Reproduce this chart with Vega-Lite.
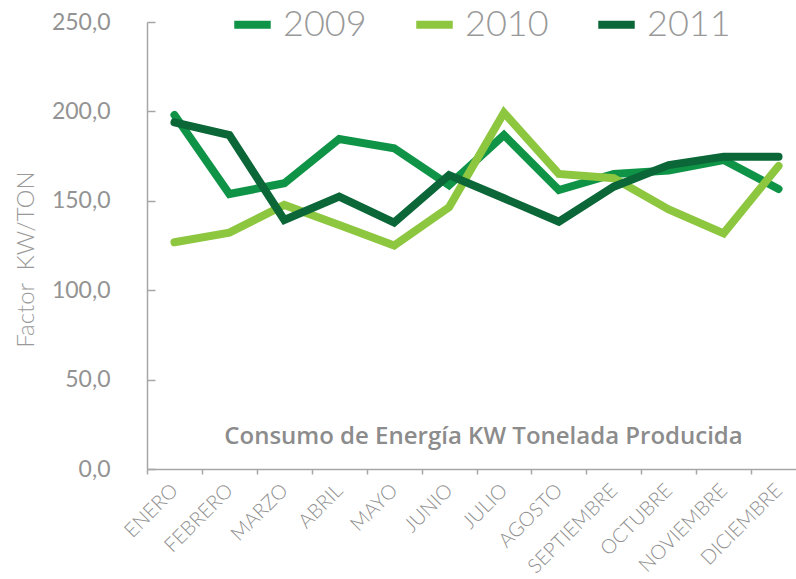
{
  "$schema": "https://vega.github.io/schema/vega-lite/v6.json",
  "width": 649,
  "height": 447,
  "autosize": {"type": "none"},
  "padding": {"left": 147, "top": 22, "right": 0, "bottom": 110},
  "background": "white",
  "config": {"view": {"stroke": null}},
  "title": {
    "text": "Consumo de Energía KW Tonelada Producida",
    "orient": "top",
    "anchor": "middle",
    "frame": "group",
    "offset": 0,
    "dy": 466,
    "dx": 12,
    "baseline": "alphabetic",
    "fontSize": 24,
    "font": "Open Sans",
    "fontWeight": 600,
    "color": "#8c8c8c"
  },
  "data": {
    "values": [
      {"mes": "ENERO", "anio": "2009", "valor": 198.0},
      {"mes": "FEBRERO", "anio": "2009", "valor": 153.8},
      {"mes": "MARZO", "anio": "2009", "valor": 159.8},
      {"mes": "ABRIL", "anio": "2009", "valor": 184.6},
      {"mes": "MAYO", "anio": "2009", "valor": 179.4},
      {"mes": "JUNIO", "anio": "2009", "valor": 158.8},
      {"mes": "JULIO", "anio": "2009", "valor": 186.8},
      {"mes": "AGOSTO", "anio": "2009", "valor": 156.0},
      {"mes": "SEPTIEMBRE", "anio": "2009", "valor": 165.0},
      {"mes": "OCTUBRE", "anio": "2009", "valor": 167.0},
      {"mes": "NOVIEMBRE", "anio": "2009", "valor": 172.8},
      {"mes": "DICIEMBRE", "anio": "2009", "valor": 156.6},
      {"mes": "ENERO", "anio": "2010", "valor": 126.8},
      {"mes": "FEBRERO", "anio": "2010", "valor": 132.2},
      {"mes": "MARZO", "anio": "2010", "valor": 147.7},
      {"mes": "ABRIL", "anio": "2010", "valor": 136.5},
      {"mes": "MAYO", "anio": "2010", "valor": 125.0},
      {"mes": "JUNIO", "anio": "2010", "valor": 146.4},
      {"mes": "JULIO", "anio": "2010", "valor": 199.3},
      {"mes": "AGOSTO", "anio": "2010", "valor": 165.0},
      {"mes": "SEPTIEMBRE", "anio": "2010", "valor": 162.6},
      {"mes": "OCTUBRE", "anio": "2010", "valor": 145.2},
      {"mes": "NOVIEMBRE", "anio": "2010", "valor": 131.8},
      {"mes": "DICIEMBRE", "anio": "2010", "valor": 169.5},
      {"mes": "ENERO", "anio": "2011", "valor": 193.9},
      {"mes": "FEBRERO", "anio": "2011", "valor": 186.8},
      {"mes": "MARZO", "anio": "2011", "valor": 139.3},
      {"mes": "ABRIL", "anio": "2011", "valor": 152.3},
      {"mes": "MAYO", "anio": "2011", "valor": 137.8},
      {"mes": "JUNIO", "anio": "2011", "valor": 164.4},
      {"mes": "JULIO", "anio": "2011", "valor": 151.4},
      {"mes": "AGOSTO", "anio": "2011", "valor": 138.3},
      {"mes": "SEPTIEMBRE", "anio": "2011", "valor": 157.9},
      {"mes": "OCTUBRE", "anio": "2011", "valor": 170.0},
      {"mes": "NOVIEMBRE", "anio": "2011", "valor": 174.7},
      {"mes": "DICIEMBRE", "anio": "2011", "valor": 174.7}
    ]
  },
  "mark": {"type": "line", "strokeWidth": 8, "strokeCap": "round"},
  "encoding": {
    "x": {
      "field": "mes",
      "type": "nominal",
      "sort": ["ENERO", "FEBRERO", "MARZO", "ABRIL", "MAYO", "JUNIO", "JULIO", "AGOSTO", "SEPTIEMBRE", "OCTUBRE", "NOVIEMBRE", "DICIEMBRE"],
      "scale": {"type": "band", "paddingInner": 0, "paddingOuter": 0, "range": [0, 659]},
      "axis": {
        "title": null,
        "tickBand": "extent",
        "labelAngle": -45,
        "domainColor": "#a6a6a6",
        "domainWidth": 1.5,
        "tickColor": "#a6a6a6",
        "tickWidth": 1.5,
        "tickSize": 5,
        "labelColor": "#8f8f8f",
        "labelFontSize": 20,
        "labelFont": "Lato",
        "labelFontWeight": 300,
        "labelPadding": 6,
        "labelOffset": -7
      }
    },
    "y": {
      "field": "valor",
      "type": "quantitative",
      "scale": {"domain": [0, 250]},
      "axis": {
        "values": [0, 50, 100, 150, 200, 250],
        "labelExpr": "replace(format(datum.value, '.1f'), '.', ',')",
        "grid": false,
        "tickSize": -8,
        "tickColor": "#a6a6a6",
        "tickWidth": 1.5,
        "domainColor": "#a6a6a6",
        "domainWidth": 1.5,
        "labelPadding": 45,
        "labelColor": "#939393",
        "labelFontSize": 23,
        "labelFont": "Lato",
        "title": "Factor\u00a0\u00a0KW/TON",
        "titleFont": "Lato",
        "titleFontSize": 24,
        "titleFontWeight": 300,
        "titleColor": "#999999",
        "titleX": -109,
        "titleY": 237
      }
    },
    "color": {
      "field": "anio",
      "type": "nominal",
      "scale": {"domain": ["2009", "2010", "2011"], "range": ["#0f9447", "#8dc63f", "#0b6737"]},
      "legend": {
        "orient": "none",
        "legendX": 83,
        "legendY": -20,
        "direction": "horizontal",
        "title": null,
        "symbolType": "stroke",
        "symbolSize": 1330,
        "symbolStrokeWidth": 8,
        "labelFontSize": 36,
        "labelFont": "Lato",
        "labelFontWeight": 300,
        "labelColor": "#999999",
        "gridAlign": "all",
        "columnPadding": 33,
        "labelOffset": 8
      }
    }
  }
}
